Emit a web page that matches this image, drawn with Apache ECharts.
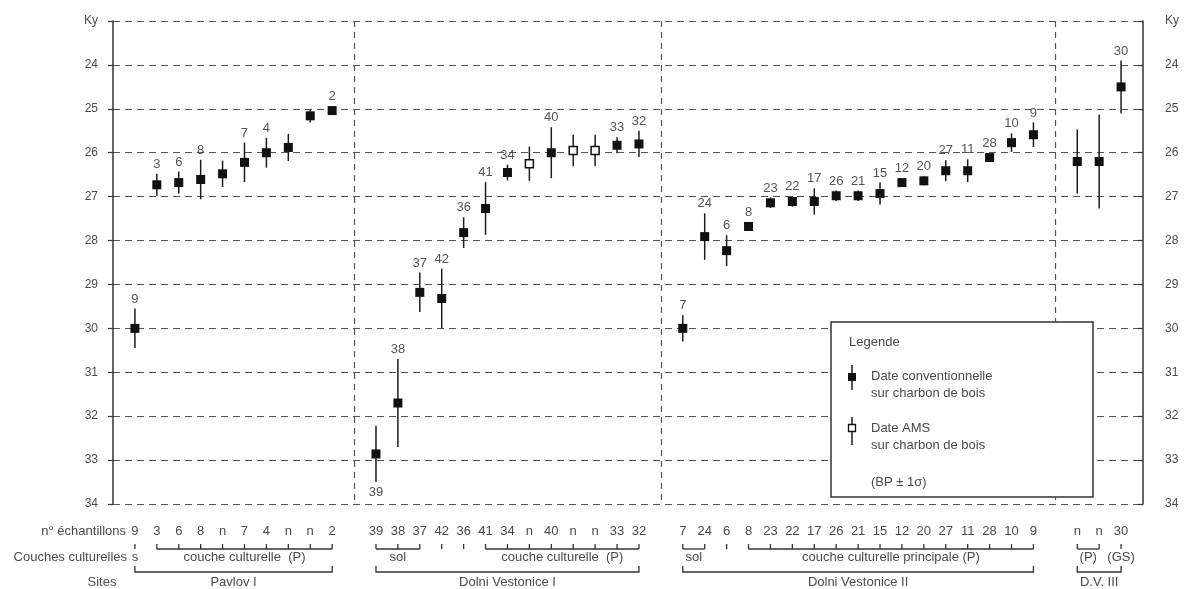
<!DOCTYPE html>
<html>
<head>
<meta charset="utf-8">
<script src="https://cdn.jsdelivr.net/npm/echarts@6/dist/echarts.min.js"></script>
<style>
  html, body { margin: 0; padding: 0; background: #fff; }
  #chart { width: 1187px; height: 589px; }
</style>
</head>
<body>
<div id="chart"></div>
<script>
// Radiocarbon dates (ky BP) with 1-sigma error, per site.
// Sample numbers: 'n' = unnumbered sample.

// Pavlov I
const pavlovSamples = ['9', '3', '6', '8', 'n', '7', '4', 'n', 'n', '2'];
const pavlovAge     = [30.0, 26.73, 26.68, 26.61, 26.48, 26.22, 26.0, 25.88, 25.16, 25.04];
const pavlovSigma   = [0.45, 0.25, 0.25, 0.45, 0.30, 0.45, 0.34, 0.31, 0.15, 0.06];
const pavlovAms     = [0, 0, 0, 0, 0, 0, 0, 0, 0, 0];
const pavlovLayers  = [[0, 0, 's'], [1, 9, 'couche culturelle  (P)']];

// Dolni Vestonice I
const dv1Samples = ['39', '38', '37', '42', '36', '41', '34', 'n', '40', 'n', 'n', '33', '32'];
const dv1Age     = [32.86, 31.70, 29.18, 29.32, 27.82, 27.27, 26.45, 26.25, 26.0, 25.95, 25.95, 25.83, 25.80];
const dv1Sigma   = [0.64, 1.0, 0.45, 0.68, 0.35, 0.60, 0.18, 0.39, 0.58, 0.36, 0.36, 0.18, 0.30];
const dv1Ams     = [0, 0, 0, 0, 0, 0, 0, 1, 0, 1, 1, 0, 0];
const dv1Layers  = [[0, 2, 'sol'], [3, 3, ''], [4, 4, ''], [5, 12, 'couche culturelle  (P)']];

// Dolni Vestonice II
const dv2Samples = ['7', '24', '6', '8', '23', '22', '17', '26', '21', '15', '12', '20', '27', '11', '28', '10', '9'];
const dv2Age     = [30.0, 27.91, 28.23, 27.68, 27.14, 27.11, 27.11, 26.98, 26.98, 26.93, 26.68, 26.64, 26.41, 26.41, 26.11, 25.77, 25.59];
const dv2Sigma   = [0.30, 0.53, 0.35, 0.05, 0.12, 0.12, 0.30, 0.12, 0.12, 0.25, 0.05, 0.10, 0.24, 0.26, 0.05, 0.21, 0.28];
const dv2Ams     = [0, 0, 0, 0, 0, 0, 0, 0, 0, 0, 0, 0, 0, 0, 0, 0, 0];
const dv2Layers  = [[0, 1, 'sol'], [2, 2, ''], [3, 16, 'couche culturelle principale (P)']];

// Dolni Vestonice III
const dv3Samples = ['n', 'n', '30'];
const dv3Age     = [26.2, 26.2, 24.5];
const dv3Sigma   = [0.73, 1.07, 0.60];
const dv3Ams     = [0, 0, 0];
const dv3Layers  = [[0, 1, '(P)'], [2, 2, '(GS)']];

const siteNames = ['Pavlov I', 'Dolni Vestonice I', 'Dolni Vestonice II', 'D.V. III'];

// Age axis ticks (the top tick carries the unit instead of its number)
const ageMin = 23, ageMax = 34, ageStep = 1, unitLabel = 'Ky';

// Sample labels drawn under their error bar instead of above it
const labelsBelow = ['39'];

const siteSamples = [pavlovSamples, dv1Samples, dv2Samples, dv3Samples];
const siteAge     = [pavlovAge, dv1Age, dv2Age, dv3Age];
const siteSigma   = [pavlovSigma, dv1Sigma, dv2Sigma, dv3Sigma];
const siteAms     = [pavlovAms, dv1Ams, dv2Ams, dv3Ams];
const siteLayers  = [pavlovLayers, dv1Layers, dv2Layers, dv3Layers];

// Build the slot list: an empty slot at each end and between sites
const categories = [''];
const points = [];        // [slot, age, sigma, pointIndex]
const pointLabels = [];
const pointAms = [];
const brackets = [];      // [fromSlot, toSlot, row, textIndex]
const bracketTexts = [];
const separators = [];

siteNames.forEach((name, k) => {
  const start = categories.length;
  siteSamples[k].forEach((s, i) => {
    categories.push(s);
    points.push([start + i, siteAge[k][i], siteSigma[k][i], points.length]);
    pointLabels.push(s);
    pointAms.push(siteAms[k][i]);
  });
  siteLayers[k].forEach(l => {
    brackets.push([start + l[0], start + l[1], 0, bracketTexts.length]);
    bracketTexts.push(l[2]);
  });
  const end = categories.length - 1;
  brackets.push([start, end, 1, bracketTexts.length]);
  bracketTexts.push(name);
  categories.push('');
  if (k < siteNames.length - 1) separators.push(categories.length - 1);
});

const FONT = '"Liberation Sans", Arial, sans-serif';
const TEXT = '#4a4a4a';
const INK = '#1c1c1c';

const chart = echarts.init(document.getElementById('chart'), null, { renderer: 'canvas' });

const yAxisBase = {
  type: 'value',
  inverse: true,
  min: ageMin,
  max: ageMax,
  interval: ageStep,
  axisLine: { show: true, lineStyle: { color: '#333', width: 1.5 } },
  axisLabel: {
    color: TEXT,
    fontFamily: FONT,
    fontSize: 12,
    formatter: v => (v === ageMin ? unitLabel : String(v))
  }
};

chart.setOption({
  animation: false,
  backgroundColor: '#fff',
  grid: { left: 113, right: 44, top: 21, bottom: 85, outerBoundsMode: 'none' },
  xAxis: {
    type: 'category',
    boundaryGap: false,
    data: categories.map((_, i) => String(i)),
    axisLine: { show: false },
    axisTick: { show: false },
    splitLine: { show: false },
    axisLabel: {
      interval: 0,
      margin: 21,
      color: TEXT,
      fontFamily: FONT,
      fontSize: 13,
      formatter: (v, i) => categories[i]
    }
  },
  yAxis: [
    Object.assign({}, yAxisBase, {
      position: 'left',
      axisTick: { show: true, length: 5, lineStyle: { color: '#333', width: 1.2 } },
      axisLabel: Object.assign({}, yAxisBase.axisLabel, { margin: 15 }),
      splitLine: { show: true, lineStyle: { type: [7, 5], color: '#555', width: 1.2 } }
    }),
    Object.assign({}, yAxisBase, {
      position: 'right',
      axisTick: { show: true, inside: true, length: 5, lineStyle: { color: '#333', width: 1.2 } },
      axisLabel: Object.assign({}, yAxisBase.axisLabel, { margin: 22 }),
      splitLine: { show: false }
    })
  ],
  series: [
    // error bars with sample labels
    {
      type: 'custom',
      yAxisIndex: 0,
      silent: true,
      z: 3,
      data: points,
      renderItem(params, api) {
        const slot = api.value(0), age = api.value(1), sig = api.value(2), idx = api.value(3);
        const top = api.coord([slot, age - sig]);
        const bot = api.coord([slot, age + sig]);
        const mid = api.coord([slot, age]);
        const children = [{
          type: 'line',
          shape: { x1: top[0], y1: top[1], x2: bot[0], y2: bot[1] },
          style: { stroke: INK, lineWidth: 1.5 }
        }];
        const lab = pointLabels[idx];
        if (lab !== 'n') {
          const below = labelsBelow.indexOf(lab) >= 0;
          const y = below ? Math.max(bot[1], mid[1] + 5) + 4 : Math.min(top[1], mid[1] - 5) - 3;
          children.push({
            type: 'text',
            x: mid[0], y: y,
            style: {
              text: lab, fill: '#555', font: '13px ' + FONT,
              align: 'center', verticalAlign: below ? 'top' : 'bottom'
            }
          });
        }
        return { type: 'group', children };
      }
    },
    // conventional dates: filled squares, plus site separators
    {
      type: 'scatter',
      yAxisIndex: 0,
      symbol: 'rect',
      symbolSize: 9,
      z: 4,
      itemStyle: { color: '#111', opacity: 1 },
      data: points.filter(p => !pointAms[p[3]]).map(p => [p[0], p[1]]),
      markLine: {
        silent: true,
        symbol: ['none', 'none'],
        label: { show: false },
        lineStyle: { type: [6, 5], color: '#555', width: 1.2 },
        data: separators.map(s => ({ xAxis: s }))
      }
    },
    // AMS dates: open squares
    {
      type: 'scatter',
      yAxisIndex: 0,
      symbol: 'rect',
      symbolSize: 8,
      z: 4,
      itemStyle: { color: '#fff', borderColor: '#111', borderWidth: 1.5, opacity: 1 },
      data: points.filter(p => pointAms[p[3]]).map(p => [p[0], p[1]])
    },
    // cultural layer and site brackets under the axis
    {
      type: 'custom',
      yAxisIndex: 0,
      silent: true,
      clip: false,
      data: brackets,
      renderItem(params, api) {
        const from = api.value(0), to = api.value(1), row = api.value(2), t = api.value(3);
        const x0 = api.coord([from, ageMax])[0];
        const x1 = api.coord([to, ageMax])[0];
        const base = api.coord([from, ageMax])[1];
        const text = bracketTexts[t];
        const stroke = { stroke: '#333', lineWidth: 1.3 };
        const children = [];
        if (row === 0) {
          const yl = base + 45, yt = base + 40;
          if (from !== to) {
            children.push({ type: 'line', shape: { x1: x0, y1: yl, x2: x1, y2: yl }, style: stroke });
          }
          for (let s = from; s <= to; s++) {
            const xs = api.coord([s, ageMax])[0];
            children.push({ type: 'line', shape: { x1: xs, y1: yt, x2: xs, y2: yl }, style: stroke });
          }
          if (text) {
            children.push({
              type: 'text', x: (x0 + x1) / 2, y: base + 53,
              style: { text, fill: TEXT, font: '13px ' + FONT, align: 'center', verticalAlign: 'middle' }
            });
          }
        } else {
          const yl = base + 68, yt = base + 62;
          children.push({ type: 'polyline', shape: { points: [[x0, yt], [x0, yl], [x1, yl], [x1, yt]] }, style: Object.assign({ fill: null }, stroke) });
          children.push({
            type: 'text', x: (x0 + x1) / 2, y: base + 78,
            style: { text, fill: TEXT, font: '13px ' + FONT, align: 'center', verticalAlign: 'middle' }
          });
        }
        return { type: 'group', children };
      }
    }
  ],
  graphic: [
    // row titles
    { type: 'text', x: 126, y: 531, z: 10, style: { text: 'n° échantillons', fill: TEXT, font: '13px ' + FONT, align: 'right', verticalAlign: 'middle' } },
    { type: 'text', x: 127, y: 557, z: 10, style: { text: 'Couches culturelles', fill: TEXT, font: '13px ' + FONT, align: 'right', verticalAlign: 'middle' } },
    { type: 'text', x: 102, y: 582, z: 10, style: { text: 'Sites', fill: TEXT, font: '13px ' + FONT, align: 'center', verticalAlign: 'middle' } },
    // legend box
    { type: 'rect', z: 100, shape: { x: 831, y: 322, width: 262, height: 175 }, style: { fill: '#fff', stroke: '#333', lineWidth: 1.5 } },
    { type: 'text', z: 101, x: 849, y: 342, style: { text: 'Legende', fill: TEXT, font: '13px ' + FONT, verticalAlign: 'middle' } },
    { type: 'line', z: 101, shape: { x1: 852, y1: 365, x2: 852, y2: 390 }, style: { stroke: INK, lineWidth: 1.5 } },
    { type: 'rect', z: 102, shape: { x: 848, y: 373, width: 8, height: 8 }, style: { fill: '#111' } },
    { type: 'text', z: 101, x: 871, y: 385, style: { text: 'Date conventionnelle\nsur charbon de bois', fill: TEXT, font: '13px ' + FONT, lineHeight: 17, verticalAlign: 'middle' } },
    { type: 'line', z: 101, shape: { x1: 852, y1: 417, x2: 852, y2: 445 }, style: { stroke: INK, lineWidth: 1.5 } },
    { type: 'rect', z: 102, shape: { x: 848.5, y: 424.5, width: 7, height: 7 }, style: { fill: '#fff', stroke: '#111', lineWidth: 1.3 } },
    { type: 'text', z: 101, x: 871, y: 437, style: { text: 'Date AMS\nsur charbon de bois', fill: TEXT, font: '13px ' + FONT, lineHeight: 17, verticalAlign: 'middle' } },
    { type: 'text', z: 101, x: 871, y: 482, style: { text: '(BP ± 1σ)', fill: TEXT, font: '13px ' + FONT, verticalAlign: 'middle' } }
  ]
});
</script>
</body>
</html>
